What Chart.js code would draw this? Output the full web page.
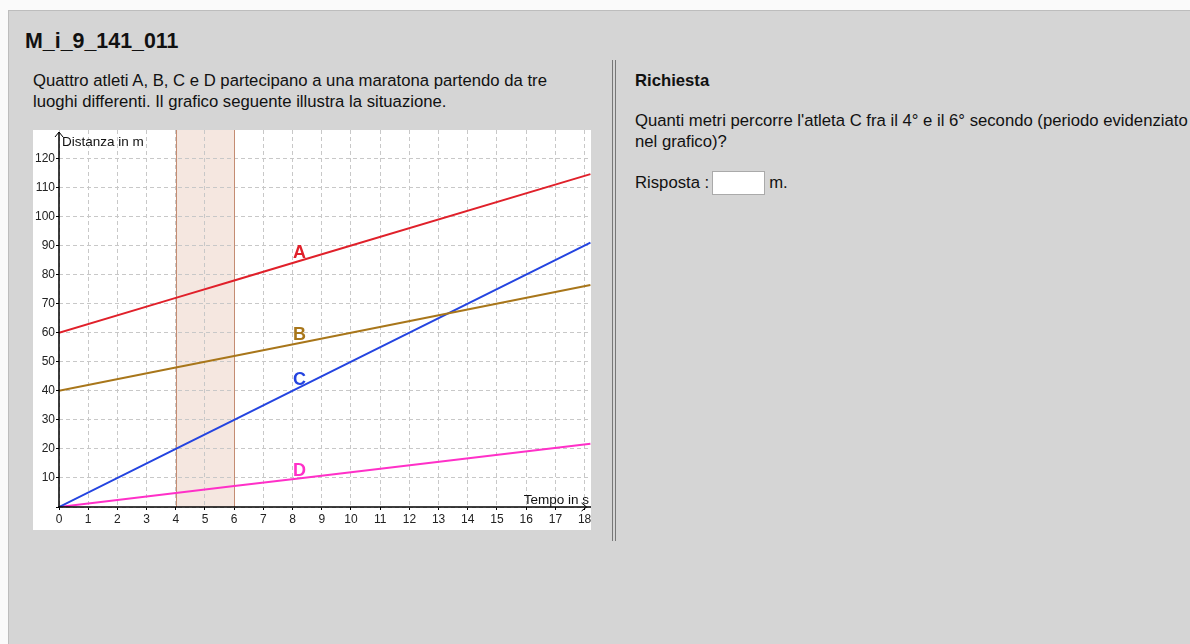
<!DOCTYPE html>
<html>
<head>
<meta charset="utf-8">
<script src="https://cdn.jsdelivr.net/npm/chart.js@4"></script>
<style>
    html, body { margin: 0; padding: 0; background: #fafafa; }
    body { width: 1190px; height: 644px; overflow: hidden; font-family: "Liberation Sans", Arial, sans-serif; color: #111; }
    .panel { position: absolute; left: 8px; top: 10px; width: 1190px; height: 640px; background: #d5d5d5; border-top: 1px solid #bdbdbd; border-left: 1px solid #bdbdbd; }
    .title { position: absolute; left: 25px; top: 29px; font-size: 21.4px; font-weight: bold; }
    .intro { position: absolute; left: 33px; top: 70px; width: 540px; font-size: 16.7px; line-height: 21px; }
    .chart-box { position: absolute; left: 33px; top: 130px; width: 558px; height: 400px; background: #fff; }
    .sep { position: absolute; left: 612px; top: 60px; width: 2px; height: 481px; border-left: 1px solid #777; border-right: 1px solid #777; }
    .req { position: absolute; left: 635px; top: 71px; font-size: 16.7px; font-weight: bold; }
    .question { position: absolute; left: 635px; top: 110px; width: 556px; font-size: 16.7px; line-height: 21px; }
    .answer { position: absolute; left: 635px; top: 171px; font-size: 16.7px; line-height: 24px; height: 24px; }
    .answer input { width: 51px; height: 22px; border: 1px solid #aaa; background: #fff; vertical-align: top; margin: 0 4px 0 3px; padding: 0; }
</style>
</head>
<body>
<div class="panel"></div>
<div class="title">M_i_9_141_011</div>
<div class="intro">Quattro atleti A, B, C e D partecipano a una maratona partendo da tre luoghi differenti. Il grafico seguente illustra la situazione.</div>
<div class="chart-box"><canvas id="raceChart" width="558" height="400"></canvas></div>
<div class="sep"></div>
<div class="req">Richiesta</div>
<div class="question">Quanti metri percorre l'atleta C fra il 4° e il 6° secondo (periodo evidenziato nel grafico)?</div>
<div class="answer">Risposta :<input type="text">m.</div>

<script>
// time in seconds, distance in metres
const times = [0, 4, 6, 8.2, 18.2];
const athleteA = [60, 72, 78, 84.6, 114.6];
const athleteB = [40, 48, 52, 56.4, 76.4];
const athleteC = [0, 20, 30, 41, 91];
const athleteD = [0, 4.8, 7.2, 9.8, 21.8];

const seriesNames = ['A', 'B', 'C', 'D'];
const seriesColors = ['#e0202a', '#a8761a', '#2444e0', '#ff30c8'];

const xTicks = [0, 1, 2, 3, 4, 5, 6, 7, 8, 9, 10, 11, 12, 13, 14, 15, 16, 17, 18];
const yTicks = [0, 10, 20, 30, 40, 50, 60, 70, 80, 90, 100, 110, 120];
const highlight = [4, 6];

const labelIndex = 3; // the point where the A/B/C/D letters sit

const toPoints = values => times.map((t, i) => ({ x: t, y: values[i] }));

const bandPlugin = {
    id: 'band',
    beforeDraw(chart) {
        const { ctx, chartArea, scales } = chart;
        const x1 = scales.x.getPixelForValue(highlight[0]);
        const x2 = scales.x.getPixelForValue(highlight[1]);
        ctx.save();
        ctx.fillStyle = '#f5e7e0';
        ctx.fillRect(x1, chartArea.top, x2 - x1, chartArea.bottom - chartArea.top);
        ctx.restore();
    },
    beforeDatasetsDraw(chart) {
        const { ctx, chartArea, scales } = chart;
        ctx.save();
        ctx.strokeStyle = '#c48c72';
        ctx.lineWidth = 1;
        highlight.forEach(v => {
            const x = Math.round(scales.x.getPixelForValue(v)) + 0.5;
            ctx.beginPath();
            ctx.moveTo(x, chartArea.top);
            ctx.lineTo(x, chartArea.bottom);
            ctx.stroke();
        });
        ctx.restore();
    }
};

const decorPlugin = {
    id: 'decor',
    afterDraw(chart) {
        const { ctx, chartArea, scales } = chart;
        const x0 = scales.x.getPixelForValue(0);
        const y0 = scales.y.getPixelForValue(0);
        ctx.save();
        // axes (drawn here so they stay solid while the grid is dashed)
        ctx.strokeStyle = '#000';
        ctx.lineWidth = 1.5;
        ctx.beginPath();
        ctx.moveTo(x0, chartArea.bottom + 1);
        ctx.lineTo(x0, chartArea.top + 2);
        ctx.moveTo(x0 - 1, y0);
        ctx.lineTo(chartArea.right, y0);
        ctx.stroke();

        // axis arrows
        ctx.lineWidth = 1;
        ctx.beginPath();
        ctx.moveTo(x0 - 4, chartArea.top + 7);
        ctx.lineTo(x0, chartArea.top + 2);
        ctx.lineTo(x0 + 4, chartArea.top + 7);
        ctx.stroke();
        const xr = scales.x.getPixelForValue(18) + 2;
        ctx.beginPath();
        ctx.moveTo(xr - 5, y0 - 4);
        ctx.lineTo(xr, y0);
        ctx.lineTo(xr - 5, y0 + 4);
        ctx.stroke();

        // axis titles
        ctx.fillStyle = '#111';
        ctx.font = '13.5px "Liberation Sans", Arial, sans-serif';
        ctx.textBaseline = 'alphabetic';
        ctx.textAlign = 'left';
        ctx.fillText('Distanza in m', x0 + 3, chartArea.top + 16);
        ctx.textAlign = 'right';
        ctx.fillText('Tempo in s', chartArea.right - 2, y0 - 3);

        // series letters
        ctx.font = 'bold 18px "Liberation Sans", Arial, sans-serif';
        ctx.textAlign = 'center';
        ctx.textBaseline = 'bottom';
        chart.data.datasets.forEach((ds, i) => {
            const pt = chart.getDatasetMeta(i).data[labelIndex];
            ctx.fillStyle = seriesColors[i];
            ctx.fillText(seriesNames[i], pt.x + 1, pt.y + 1);
        });
        ctx.restore();
    }
};

const gridStyle = {
    color: '#c8c8c8',
    lineWidth: 1,
    tickLength: 3,
    tickColor: '#000',
    tickBorderDash: []
};

// in Chart.js v4 the grid line dash is read from border.dash
const borderStyle = { display: true, color: 'rgba(0,0,0,0)', width: 0, dash: [4, 3] };

new Chart(document.getElementById('raceChart').getContext('2d'), {
    type: 'line',
    data: {
        datasets: [athleteA, athleteB, athleteC, athleteD].map((values, i) => ({
            label: seriesNames[i],
            data: toPoints(values),
            borderColor: seriesColors[i],
            borderWidth: 2,
            pointRadius: 0,
            tension: 0,
            fill: false
        }))
    },
    options: {
        responsive: false,
        animation: false,
        layout: { padding: 0 },
        plugins: {
            legend: { display: false },
            tooltip: { enabled: false }
        },
        scales: {
            x: {
                type: 'linear',
                min: 0,
                max: 18.22,
                afterBuildTicks: scale => { scale.ticks = xTicks.map(v => ({ value: v })); },
                afterFit: scale => {
                    scale.height = 23;
                    scale.paddingLeft = 0;
                    scale.paddingRight = 0;
                },
                grid: gridStyle,
                border: borderStyle,
                ticks: {
                    color: '#222',
                    padding: 2,
                    maxRotation: 0,
                    autoSkip: false,
                    font: { family: '"Liberation Sans", Arial, sans-serif', size: 12 }
                }
            },
            y: {
                type: 'linear',
                min: 0,
                max: 129.8,
                afterBuildTicks: scale => { scale.ticks = yTicks.map(v => ({ value: v })); },
                afterFit: scale => {
                    scale.width = 26;
                    scale.paddingTop = 0;
                    scale.paddingBottom = 0;
                },
                grid: gridStyle,
                border: borderStyle,
                ticks: {
                    color: '#222',
                    padding: 1,
                    autoSkip: false,
                    font: { family: '"Liberation Sans", Arial, sans-serif', size: 12 },
                    callback: v => (v === 0 ? '' : v)
                }
            }
        }
    },
    plugins: [bandPlugin, decorPlugin]
});
</script>
</body>
</html>
